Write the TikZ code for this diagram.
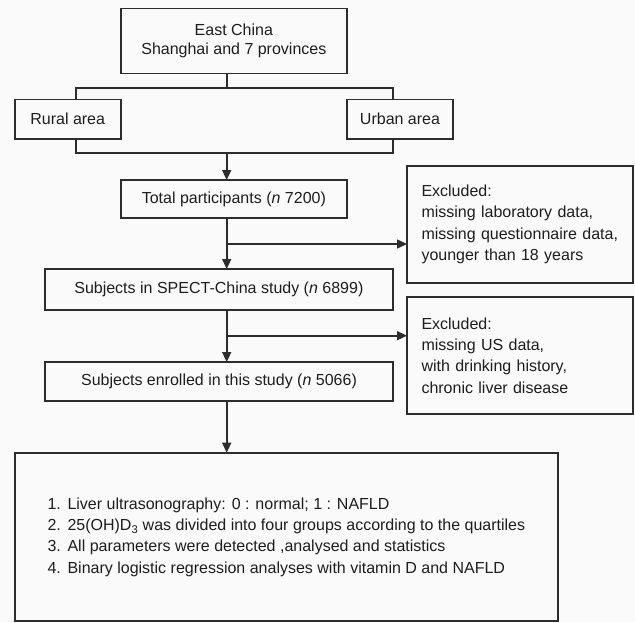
\documentclass[tikz,border=0pt]{standalone}
\usepackage{fontspec}
\setmainfont{Liberation Sans}
\usetikzlibrary{arrows.meta}
\definecolor{bg}{RGB}{250,250,250}
\definecolor{ln}{RGB}{45,45,45}
\definecolor{tx}{RGB}{30,30,30}
\begin{document}
\begin{tikzpicture}[x=1pt,y=-1pt,
  box/.style={draw=ln,line width=1.6pt,fill=bg,inner sep=0pt,outer sep=0pt,
    text=tx,font=\fontsize{16}{21.3}\selectfont,align=center},
  exbox/.style={box,minimum width=226pt,text width=197pt,align=left},
  conn/.style={draw=ln,line width=1.6pt},
  arr/.style={conn,-{Triangle[length=10pt,width=9pt]}}]
\fill[bg] (0,0) rectangle (635,622);
\useasboundingbox (0,0) rectangle (635,622);
% boxes
\node[box,minimum width=226.3pt,minimum height=65.2pt,font=\fontsize{16}{19}\selectfont] (top) at (233.85,40.9) {East China\\Shanghai and 7 provinces};
\node[box,minimum width=106pt,minimum height=39.7pt] (rural) at (67.7,119.15) {Rural area};
\node[box,minimum width=106pt,minimum height=39.7pt] (urban) at (400,119.15) {Urban area};
\node[box,minimum width=226.3pt,minimum height=38pt] (total) at (233.85,199) {Total participants (\textit{n} 7200)};
\node[exbox,minimum height=117.3pt] (ex1) at (520,224.35) {Excluded:\\missing laboratory data,\\missing questionnaire data,\\younger than 18 years};
\node[box,minimum width=347.7pt,minimum height=41pt] (spect) at (218.85,289.5) {Subjects in SPECT-China study (\textit{n} 6899)};
\node[exbox,minimum height=117pt] (ex2) at (520,355.5) {Excluded:\\missing US data,\\with drinking history,\\chronic liver disease};
\node[box,minimum width=348pt,minimum height=39pt] (enr) at (219,381.5) {Subjects enrolled in this study (\textit{n} 5066)};
\node[box,minimum width=543.3pt,minimum height=168.3pt] (bot) at (286.35,536.85) {%
\begin{tabular}{@{}r@{\hspace{6.7pt}}l@{}}
1. & Liver ultrasonography: 0 : normal; 1 : NAFLD\\
2. & 25(OH)D\textsubscript{3} was divided into four groups according to the quartiles\\
3. & All parameters were detected ,analysed and statistics\\
4. & Binary logistic regression analyses with vitamin D and NAFLD
\end{tabular}};
% connector coordinates
\coordinate (sp) at (226.7,87.7);
\coordinate (bl) at (76,87.7);
\coordinate (br) at (392.7,87.7);
\coordinate (jl) at (76,152.7);
\coordinate (jr) at (392.7,152.7);
\coordinate (jm) at (226.7,152.7);
\coordinate (b1) at (226.7,244);
\coordinate (b2) at (226.7,335.7);
% connectors
\draw[conn] (top.south -| sp) -- (sp);
\draw[conn] (bl |- rural.north) -- (bl) -- (br) -- (br |- urban.north);
\draw[conn] (bl |- rural.south) -- (jl) -- (jr) -- (jr |- urban.south);
\draw[arr] (jm) -- (jm |- total.north);
\draw[arr] (total.south -| jm) -- (spect.north -| jm);
\draw[arr] (b1) -- (b1 -| ex1.west);
\draw[arr] (spect.south -| jm) -- (enr.north -| jm);
\draw[arr] (b2) -- (b2 -| ex2.west);
\draw[arr] (enr.south -| jm) -- (bot.north -| jm);
\end{tikzpicture}
\end{document}
